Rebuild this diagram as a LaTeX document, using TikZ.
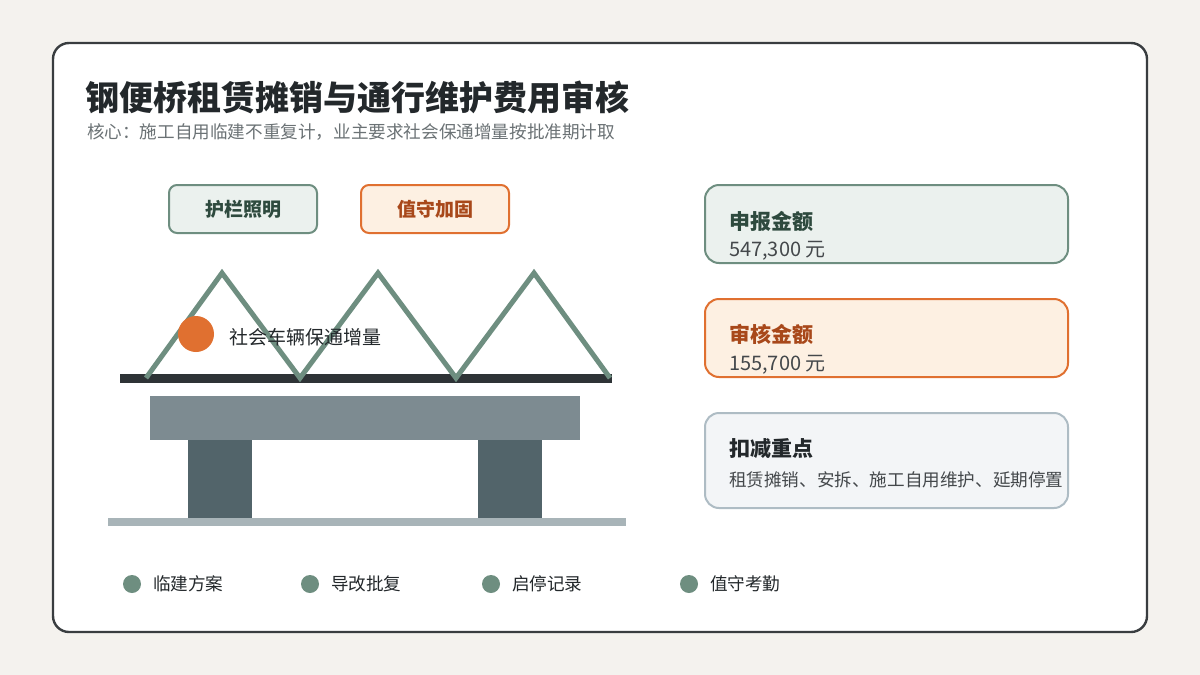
\documentclass[tikz,border=0pt]{standalone}
\usepackage{fontspec}
\setmainfont{Noto Sans CJK SC}
\definecolor{bgpage}{HTML}{F4F2EE}
\definecolor{ink}{HTML}{23282B}
\definecolor{greyt}{HTML}{6B7275}
\definecolor{sage}{HTML}{6E8E80}
\definecolor{sagefill}{HTML}{EBF1EE}
\definecolor{sagedark}{HTML}{2E4A3E}
\definecolor{orng}{HTML}{E07030}
\definecolor{orngfill}{HTML}{FDF0E2}
\definecolor{orngdark}{HTML}{A8481A}
\definecolor{slab}{HTML}{7D8B91}
\definecolor{pier}{HTML}{52646A}
\definecolor{ground}{HTML}{A8B4B8}
\definecolor{bluefill}{HTML}{F3F5F7}
\definecolor{blueline}{HTML}{AEBCC4}
\tikzset{
  tagbox/.style={draw=#1, line width=1pt, rounded corners=4pt, minimum width=74pt, minimum height=24pt, font=\fontsize{9.5}{10}\selectfont\bfseries},
  sumbox/.style={draw=#1, line width=1pt, rounded corners=7pt},
  head/.style={anchor=west, font=\fontsize{10.5}{11}\selectfont\bfseries},
  val/.style={anchor=west, font=\fontsize{10}{11}\selectfont, text=ink!85},
  legdot/.style={circle, fill=sage, inner sep=0pt, minimum size=9pt},
  legtext/.style={anchor=west, font=\fontsize{8.8}{10}\selectfont, text=ink}
}
\begin{document}
\begin{tikzpicture}[x=0.5pt, y=-0.5pt]
% page and card
\fill[bgpage] (0,0) rectangle (1200,675);
\useasboundingbox (0,0) rectangle (1200,675);
\draw[ink!90, line width=1.2pt, fill=white, rounded corners=8pt] (53,43) rectangle (1147,632);

% title
\node[anchor=west, text=ink, font=\fontsize{17}{18}\selectfont\bfseries] (title) at (78,97) {钢便桥租赁摊销与通行维护费用审核};
\node[anchor=west, text=greyt, font=\fontsize{8.8}{9}\selectfont] (sub) at (80,132) {核心：施工自用临建不重复计，业主要求社会保通增量按批准期计取};

% tags
\node[tagbox=sage, fill=sagefill, text=sagedark] (rail) at (243,209) {护栏照明};
\node[tagbox=orng, fill=orngfill, text=orngdark] (guard) at (435,209) {值守加固};

% bridge
\fill[ground] (108,518) rectangle (626,526);
\fill[pier] (188,440) rectangle (252,518);
\fill[pier] (478,440) rectangle (542,518);
\fill[slab] (150,396) rectangle (580,440);
\fill[ink!95] (120,374) rectangle (612,383);
\draw[sage, line width=2.5pt, line join=miter] (146,378) -- (222,273) -- (300,378) -- (378,273) -- (456,378) -- (534,273) -- (610,378);

% traffic
\node[circle, fill=orng, inner sep=0pt, minimum size=18pt] (car) at (196,334) {};
\node[anchor=west, text=ink, font=\fontsize{9.5}{10}\selectfont] (carlab) at (222,337) {社会车辆保通增量};

% summary boxes
\draw[sumbox=sage, fill=sagefill] (705,185) rectangle (1068,263);
\node[head, text=sagedark] (decl) at (722,221) {申报金额};
\node[val] (declv) at (722,251) {547,300 元};
\draw[sumbox=orng, fill=orngfill] (705,299) rectangle (1068,377);
\node[head, text=orngdark] (aud) at (722,334) {审核金额};
\node[val] (audv) at (722,365) {155,700 元};
\draw[sumbox=blueline, fill=bluefill] (705,413) rectangle (1068,508);
\node[head, text=ink] (ded) at (722,449) {扣减重点};
\node[val, font=\fontsize{8.8}{10}\selectfont] (dedv) at (722,480) {租赁摊销、安拆、施工自用维护、延期停置};

% legend
\foreach \x/\t in {132/临建方案, 310/导改批复, 491/启停记录, 689/值守考勤} {
  \node[legdot] at (\x,584) {};
  \node[legtext] at (\x+14,584) {\t};
}
\end{tikzpicture}
\end{document}
